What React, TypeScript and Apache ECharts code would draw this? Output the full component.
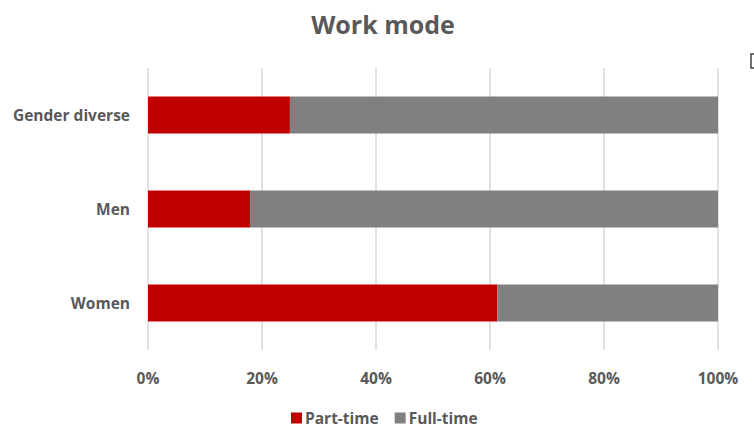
import React, { useEffect, useRef } from "react";
import * as echarts from "echarts";

const categories = ["Women", "Men", "Gender diverse"];
const partTime = [61.3, 17.9, 24.9];
const fullTime = [38.7, 82.1, 75.1];
const seriesNames = ["Part-time", "Full-time"];

const FONT = "'Open Sans', 'Liberation Sans', sans-serif";
const TEXT = "#595959";

const App: React.FC = () => {
    const ref = useRef<HTMLDivElement | null>(null);

    useEffect(() => {
        if (!ref.current) return;
        const chart = echarts.init(ref.current, undefined, { renderer: "svg" });

        const option: echarts.EChartsOption = {
            animation: false,
            title: {
                text: "Work mode",
                left: 378,
                top: 6,
                textAlign: "center",
                textStyle: { fontFamily: FONT, fontSize: 25, fontWeight: "bold", color: TEXT }
            },
            legend: {
                bottom: 5,
                left: 286,
                itemWidth: 11,
                itemHeight: 11,
                itemGap: 16,
                icon: "rect",
                textStyle: { fontFamily: FONT, fontSize: 15.5, fontWeight: "bold", color: TEXT, padding: [0, 0, 0, -2] },
                data: seriesNames
            },
            grid: { left: 148, right: 36, top: 68, bottom: 86, containLabel: false },
            xAxis: {
                type: "value",
                min: 0,
                max: 100,
                interval: 20,
                axisLine: { show: false },
                axisTick: { show: false },
                splitLine: { lineStyle: { color: "#d9d9d9", width: 1.5 } },
                axisLabel: {
                    formatter: "{value}%",
                    margin: 20,
                    fontFamily: FONT,
                    fontSize: 15.5,
                    fontWeight: "bold",
                    color: TEXT
                }
            },
            yAxis: {
                type: "category",
                data: categories,
                axisLine: { show: false },
                axisTick: { show: false },
                axisLabel: {
                    margin: 18,
                    fontFamily: FONT,
                    fontSize: 15.5,
                    fontWeight: "bold",
                    color: TEXT
                }
            },
            series: [
                {
                    name: seriesNames[0],
                    type: "bar",
                    stack: "total",
                    barWidth: 37,
                    itemStyle: { color: "#c00000" },
                    data: partTime
                },
                {
                    name: seriesNames[1],
                    type: "bar",
                    stack: "total",
                    barWidth: 37,
                    itemStyle: { color: "#808080" },
                    data: fullTime
                }
            ],
            graphic: [
                {
                    type: "rect",
                    shape: { x: 751, y: 54, width: 8, height: 14 },
                    style: { fill: "#fff", stroke: "#404040", lineWidth: 1.5 }
                }
            ]
        };

        chart.setOption(option);
        return () => chart.dispose();
    }, []);

    return (
        <div
            ref={ref}
            style={{ position: "fixed", left: 0, top: 0, width: 754, height: 436, background: "#fff" }}
        />
    );
};

export default App;
